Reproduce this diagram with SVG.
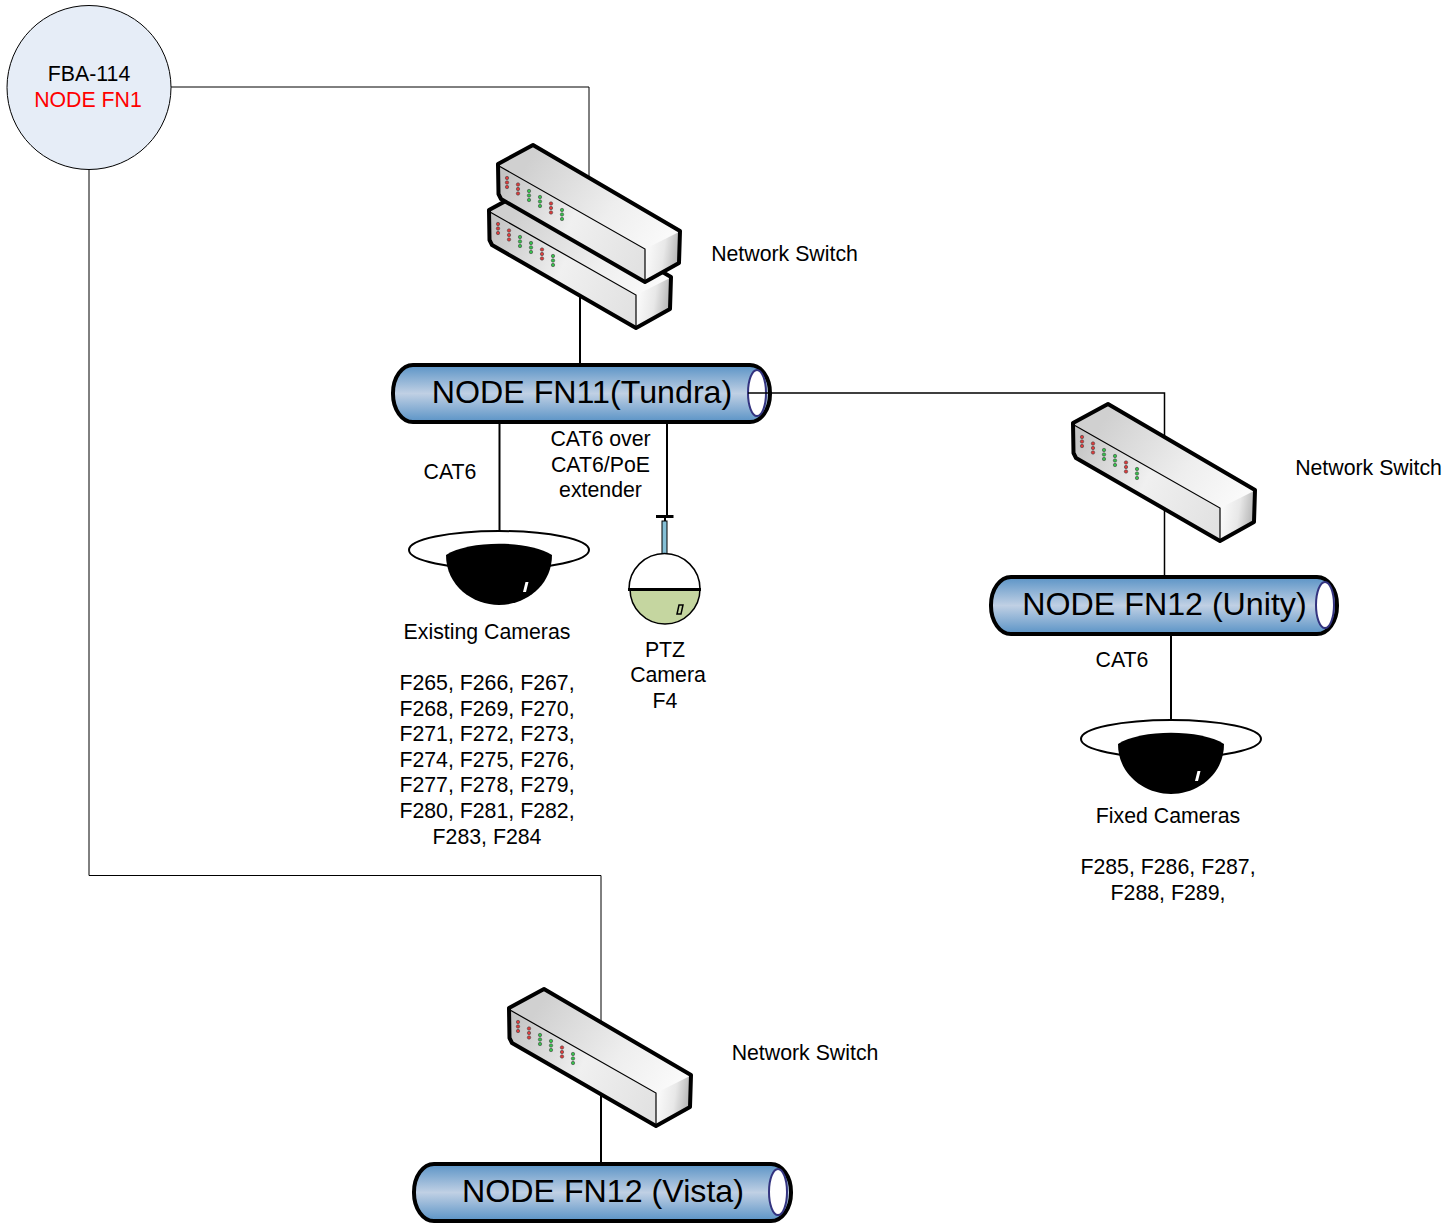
<svg xmlns="http://www.w3.org/2000/svg" xmlns:xlink="http://www.w3.org/1999/xlink" width="1447" height="1224" viewBox="0 0 1447 1224">
<style>
text{font-family:"Liberation Sans",Arial,sans-serif;font-size:21.3px;text-anchor:middle;fill:#000}
.big{font-size:32.2px}
.wire{fill:none;stroke:#000;stroke-width:1}
.wire2{fill:none;stroke:#000;stroke-width:2}
.edge{fill:none;stroke:#000;stroke-width:1.2}
.cyl{fill:url(#cylG);stroke:#000;stroke-width:4}
.cap{fill:#fff;stroke:#33337f;stroke-width:2}
</style>
<defs>
<linearGradient id="cylG" x1="0" y1="0" x2="0" y2="1"><stop offset="0" stop-color="#5a93c6"/><stop offset="0.5" stop-color="#c0d0e4"/><stop offset="1" stop-color="#5a93c6"/></linearGradient>
<linearGradient id="swTop" gradientUnits="userSpaceOnUse" x1="0" y1="10" x2="130" y2="100"><stop offset="0" stop-color="#d0d0d0"/><stop offset="0.6" stop-color="#eeeeee"/><stop offset="1" stop-color="#fafafa"/></linearGradient>
<linearGradient id="swFront" gradientUnits="userSpaceOnUse" x1="-34" y1="40" x2="112" y2="110"><stop offset="0" stop-color="#c4c4c4"/><stop offset="0.5" stop-color="#f0f0f0"/><stop offset="1" stop-color="#e2e2e2"/></linearGradient>
<linearGradient id="swEnd" gradientUnits="userSpaceOnUse" x1="112" y1="110" x2="148" y2="115"><stop offset="0" stop-color="#fbfbfb"/><stop offset="0.5" stop-color="#e8e8e8"/><stop offset="1" stop-color="#ababab"/></linearGradient>
<g id="leds" stroke="#444" stroke-width="0.6"><circle r="1.7" cy="0"/><circle r="1.7" cy="4.5"/><circle r="1.7" cy="9"/></g>
<g id="switch">
<path d="M0 0L-35 19L-34 53L112 137L147 116L148 86Z" fill="url(#swTop)"/>
<path d="M-34 21L112 104L112 137L-34 53Z" fill="url(#swFront)"/>
<path d="M112 104L148 86L147 116L112 137Z" fill="url(#swEnd)"/>
<path d="M0 0L-35 19L-34.500 49L-32 54L112 137L146 118L147 86Z" fill="none" stroke="#000" stroke-width="4" stroke-linejoin="round"/>
<path class="edge" d="M-34 21L112 104L112 137"/>
<use xlink:href="#leds" href="#leds" x="-26" y="33" fill="#e03a3a"/>
<use xlink:href="#leds" href="#leds" x="-15" y="39.500" fill="#e03a3a"/>
<use xlink:href="#leds" href="#leds" x="-4" y="46" fill="#35c24a"/>
<use xlink:href="#leds" href="#leds" x="7" y="52" fill="#35c24a"/>
<use xlink:href="#leds" href="#leds" x="18" y="58.500" fill="#e03a3a"/>
<use xlink:href="#leds" href="#leds" x="29" y="65" fill="#35c24a"/>
</g>
<g id="dome">
<ellipse cx="0" cy="0" rx="90" ry="19" fill="#fff" stroke="#000" stroke-width="2"/>
<path d="M-53 5C-30 -10 30 -10 53 5C53 36 26 55 0 55C-26 55 -53 36 -53 5Z" fill="#000"/>
<path d="M26.500 32L29.500 32L27 42L24 42Z" fill="#fff"/>
</g>
</defs>
<g id="connectors">
<path class="wire" d="M171 87H589V190"/>
<path class="wire" d="M89 169V875.500H601V1030"/>
<path class="wire2" d="M580 290V366"/>
<path class="wire2" style="stroke-width:1.500" d="M748 393H1164.500V580"/>
<path class="wire2" d="M499.500 420V532"/>
<path class="wire2" d="M667 420V516"/>
<path class="wire2" d="M1171 633V722"/>
<path class="wire2" d="M601 1090V1165"/>
</g>
<g id="fba114"><circle cx="89" cy="87.500" r="82" fill="#e6edf7" stroke="#000" stroke-width="1"/><text x="89" y="80.500">FBA-114</text><text x="88" y="106.500" style="fill:#ff0000">NODE FN1</text></g>
<g id="switch-fn11-b"><use xlink:href="#switch" href="#switch" x="524" y="191"/></g>
<g id="switch-fn11-a"><use xlink:href="#switch" href="#switch" x="533" y="145"/><text x="784.500" y="261">Network Switch</text></g>
<g id="node-fn11"><rect class="cyl" x="393" y="365" width="377" height="57" rx="20" ry="28"/><ellipse class="cap" cx="757" cy="393" rx="9" ry="23"/><path class="wire" style="stroke-width:1.500" d="M748 393H772"/><text class="big" x="582" y="403">NODE FN11(Tundra)</text></g>
<g id="switch-fn12u"><use xlink:href="#switch" href="#switch" x="1108" y="404"/><text x="1368.500" y="475">Network Switch</text></g>
<g id="node-fn12u"><rect class="cyl" x="991" y="577" width="346" height="57" rx="20" ry="28"/><ellipse class="cap" cx="1325" cy="605" rx="9" ry="23"/><text class="big" x="1164.500" y="615">NODE FN12 (Unity)</text></g>
<g id="switch-vista"><use xlink:href="#switch" href="#switch" x="544" y="989"/><text x="805" y="1060">Network Switch</text></g>
<g id="node-vista"><rect class="cyl" x="414" y="1164" width="377" height="57" rx="20" ry="28"/><ellipse class="cap" cx="778" cy="1192" rx="9" ry="23"/><text class="big" x="603" y="1202">NODE FN12 (Vista)</text></g>
<g id="cam-existing"><use xlink:href="#dome" href="#dome" x="499" y="550"/><text x="487" y="639">Existing Cameras</text>
<text x="487" y="690">F265, F266, F267,</text><text x="487" y="716">F268, F269, F270,</text><text x="487" y="741">F271, F272, F273,</text><text x="487" y="767">F274, F275, F276,</text><text x="487" y="792">F277, F278, F279,</text><text x="487" y="818">F280, F281, F282,</text><text x="487" y="844">F283, F284</text></g>
<g id="cat6-label"><text x="450" y="479">CAT6</text></g>
<g id="cat6-poe-label"><text x="600.500" y="446">CAT6 over</text><text x="600.500" y="472">CAT6/PoE</text><text x="600.500" y="497">extender</text></g>
<g id="cam-ptz">
<path d="M656 516.500H673.500" stroke="#000" stroke-width="3"/><path d="M665 516V522" stroke="#000" stroke-width="2"/>
<rect x="662" y="521" width="5" height="33" fill="#86c0d6" stroke="#000" stroke-width="1"/>
<path d="M629 589A35.500 35.500 0 0 1 700 589Z" fill="#fff" stroke="#000" stroke-width="1.500"/>
<path d="M630 589A35 35 0 0 0 700 589Z" fill="#c5d6a0" stroke="#000" stroke-width="1.500"/>
<path d="M628 589.500H701" stroke="#000" stroke-width="3"/>
<path d="M679 605L683 605L681 614L677 614Z" fill="#c5d6a0" stroke="#000" stroke-width="1.500"/>
<text x="665" y="657">PTZ</text><text x="668" y="682">Camera</text><text x="665" y="708">F4</text></g>
<g id="cat6-label-2"><text x="1122" y="667">CAT6</text></g>
<g id="cam-fixed"><use xlink:href="#dome" href="#dome" x="1171" y="739"/><text x="1168" y="823">Fixed Cameras</text><text x="1168" y="874">F285, F286, F287,</text><text x="1168" y="900">F288, F289,</text></g>
</svg>
